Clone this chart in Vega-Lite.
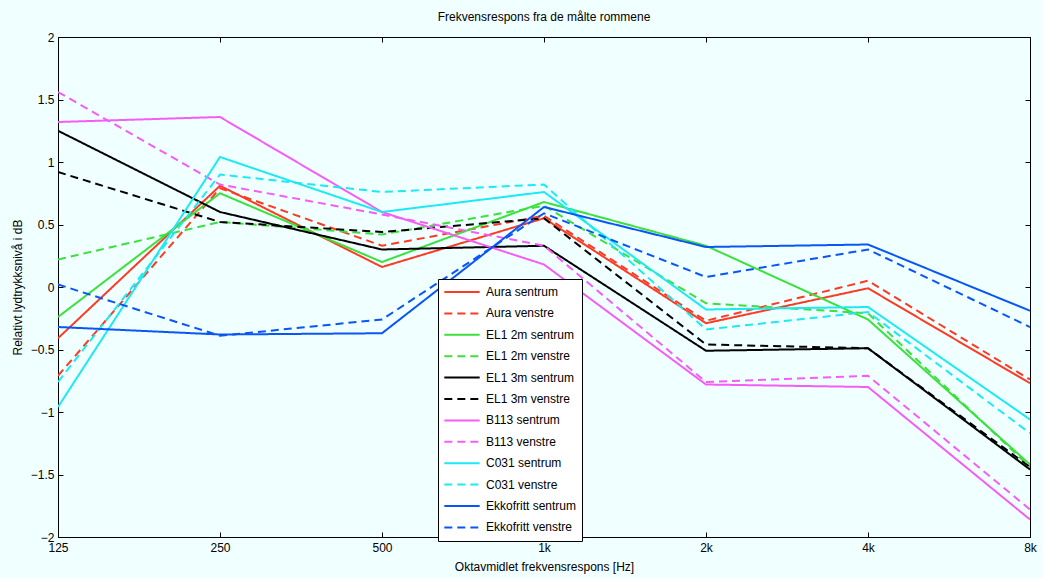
{
  "$schema": "https://vega.github.io/schema/vega-lite/v6.json",
  "width": 972,
  "height": 500,
  "autosize": {"type": "none"},
  "padding": {"left": 58, "top": 37, "right": 13, "bottom": 41},
  "background": "#F0FFFF",
  "config": {
    "font": "Liberation Sans",
    "view": {"stroke": "#000000", "strokeWidth": 1, "fill": "#F0FFFF"},
    "axis": {"labelFont": "Liberation Sans", "labelFontSize": 12, "labelColor": "#000", "titleFont": "Liberation Sans", "titleFontSize": 12, "titleFontWeight": "normal", "titleColor": "#000", "grid": false, "domain": false, "tickColor": "#000", "tickSize": -5, "labelOverlap": false, "labelFlush": false, "labelBound": false}
  },
  "title": {"text": "Frekvensrespons fra de målte rommene", "fontSize": 12, "fontWeight": "normal", "font": "Liberation Sans", "anchor": "middle", "offset": 7, "color": "#000"},
  "data": {"values": [
    {"f": 125, "s": "Aura sentrum", "v": -0.41}, {"f": 250, "s": "Aura sentrum", "v": 0.81}, {"f": 500, "s": "Aura sentrum", "v": 0.16}, {"f": 1000, "s": "Aura sentrum", "v": 0.55}, {"f": 2000, "s": "Aura sentrum", "v": -0.29}, {"f": 4000, "s": "Aura sentrum", "v": -0.01}, {"f": 8000, "s": "Aura sentrum", "v": -0.77},
    {"f": 125, "s": "Aura venstre", "v": -0.71}, {"f": 250, "s": "Aura venstre", "v": 0.79}, {"f": 500, "s": "Aura venstre", "v": 0.33}, {"f": 1000, "s": "Aura venstre", "v": 0.57}, {"f": 2000, "s": "Aura venstre", "v": -0.27}, {"f": 4000, "s": "Aura venstre", "v": 0.05}, {"f": 8000, "s": "Aura venstre", "v": -0.74},
    {"f": 125, "s": "EL1 2m sentrum", "v": -0.24}, {"f": 250, "s": "EL1 2m sentrum", "v": 0.75}, {"f": 500, "s": "EL1 2m sentrum", "v": 0.2}, {"f": 1000, "s": "EL1 2m sentrum", "v": 0.68}, {"f": 2000, "s": "EL1 2m sentrum", "v": 0.33}, {"f": 4000, "s": "EL1 2m sentrum", "v": -0.26}, {"f": 8000, "s": "EL1 2m sentrum", "v": -1.42},
    {"f": 125, "s": "EL1 2m venstre", "v": 0.22}, {"f": 250, "s": "EL1 2m venstre", "v": 0.52}, {"f": 500, "s": "EL1 2m venstre", "v": 0.42}, {"f": 1000, "s": "EL1 2m venstre", "v": 0.65}, {"f": 2000, "s": "EL1 2m venstre", "v": -0.13}, {"f": 4000, "s": "EL1 2m venstre", "v": -0.21}, {"f": 8000, "s": "EL1 2m venstre", "v": -1.44},
    {"f": 125, "s": "EL1 3m sentrum", "v": 1.25}, {"f": 250, "s": "EL1 3m sentrum", "v": 0.6}, {"f": 500, "s": "EL1 3m sentrum", "v": 0.3}, {"f": 1000, "s": "EL1 3m sentrum", "v": 0.33}, {"f": 2000, "s": "EL1 3m sentrum", "v": -0.51}, {"f": 4000, "s": "EL1 3m sentrum", "v": -0.49}, {"f": 8000, "s": "EL1 3m sentrum", "v": -1.46},
    {"f": 125, "s": "EL1 3m venstre", "v": 0.92}, {"f": 250, "s": "EL1 3m venstre", "v": 0.52}, {"f": 500, "s": "EL1 3m venstre", "v": 0.44}, {"f": 1000, "s": "EL1 3m venstre", "v": 0.55}, {"f": 2000, "s": "EL1 3m venstre", "v": -0.46}, {"f": 4000, "s": "EL1 3m venstre", "v": -0.49}, {"f": 8000, "s": "EL1 3m venstre", "v": -1.44},
    {"f": 125, "s": "B113 sentrum", "v": 1.32}, {"f": 250, "s": "B113 sentrum", "v": 1.36}, {"f": 500, "s": "B113 sentrum", "v": 0.6}, {"f": 1000, "s": "B113 sentrum", "v": 0.18}, {"f": 2000, "s": "B113 sentrum", "v": -0.78}, {"f": 4000, "s": "B113 sentrum", "v": -0.8}, {"f": 8000, "s": "B113 sentrum", "v": -1.86},
    {"f": 125, "s": "B113 venstre", "v": 1.56}, {"f": 250, "s": "B113 venstre", "v": 0.82}, {"f": 500, "s": "B113 venstre", "v": 0.58}, {"f": 1000, "s": "B113 venstre", "v": 0.33}, {"f": 2000, "s": "B113 venstre", "v": -0.76}, {"f": 4000, "s": "B113 venstre", "v": -0.71}, {"f": 8000, "s": "B113 venstre", "v": -1.78},
    {"f": 125, "s": "C031 sentrum", "v": -0.96}, {"f": 250, "s": "C031 sentrum", "v": 1.04}, {"f": 500, "s": "C031 sentrum", "v": 0.6}, {"f": 1000, "s": "C031 sentrum", "v": 0.76}, {"f": 2000, "s": "C031 sentrum", "v": -0.18}, {"f": 4000, "s": "C031 sentrum", "v": -0.16}, {"f": 8000, "s": "C031 sentrum", "v": -1.06},
    {"f": 125, "s": "C031 venstre", "v": -0.76}, {"f": 250, "s": "C031 venstre", "v": 0.9}, {"f": 500, "s": "C031 venstre", "v": 0.76}, {"f": 1000, "s": "C031 venstre", "v": 0.82}, {"f": 2000, "s": "C031 venstre", "v": -0.34}, {"f": 4000, "s": "C031 venstre", "v": -0.2}, {"f": 8000, "s": "C031 venstre", "v": -1.17},
    {"f": 125, "s": "Ekkofritt sentrum", "v": -0.32}, {"f": 250, "s": "Ekkofritt sentrum", "v": -0.38}, {"f": 500, "s": "Ekkofritt sentrum", "v": -0.37}, {"f": 1000, "s": "Ekkofritt sentrum", "v": 0.64}, {"f": 2000, "s": "Ekkofritt sentrum", "v": 0.32}, {"f": 4000, "s": "Ekkofritt sentrum", "v": 0.34}, {"f": 8000, "s": "Ekkofritt sentrum", "v": -0.19},
    {"f": 125, "s": "Ekkofritt venstre", "v": 0.02}, {"f": 250, "s": "Ekkofritt venstre", "v": -0.39}, {"f": 500, "s": "Ekkofritt venstre", "v": -0.26}, {"f": 1000, "s": "Ekkofritt venstre", "v": 0.59}, {"f": 2000, "s": "Ekkofritt venstre", "v": 0.08}, {"f": 4000, "s": "Ekkofritt venstre", "v": 0.3}, {"f": 8000, "s": "Ekkofritt venstre", "v": -0.32}
  ]},
  "layer": [
    {
      "mark": {"type": "line", "strokeWidth": 2, "clip": true},
      "encoding": {
        "x": {"field": "f", "type": "quantitative", "scale": {"type": "log", "base": 2, "domain": [125, 8000], "nice": false},
          "axis": {"orient": "bottom", "values": [125, 250, 500, 1000, 2000, 4000, 8000], "labelExpr": "datum.value >= 1000 ? (datum.value / 1000) + 'k' : datum.value", "labelPadding": 10, "title": "Oktavmidlet frekvensrespons [Hz]", "titleX": 486, "titleY": 29, "titleBaseline": "middle"}},
        "y": {"field": "v", "type": "quantitative", "scale": {"domain": [-2, 2], "nice": false, "zero": false},
          "axis": {"orient": "left", "values": [-2, -1.5, -1, -0.5, 0, 0.5, 1, 1.5, 2], "format": "~g", "labelPadding": 9, "title": "Relativt lydtrykksnivå i dB", "titleX": -41, "titleY": 250, "titleAngle": -90, "titleBaseline": "middle", "titleAlign": "center"}},
        "color": {"field": "s", "type": "nominal", "sort": null,
          "scale": {"domain": ["Aura sentrum", "Aura venstre", "EL1 2m sentrum", "EL1 2m venstre", "EL1 3m sentrum", "EL1 3m venstre", "B113 sentrum", "B113 venstre", "C031 sentrum", "C031 venstre", "Ekkofritt sentrum", "Ekkofritt venstre"],
            "range": ["#FF3A24", "#FF3A24", "#3CE03C", "#3CE03C", "#000000", "#000000", "#F65CF6", "#F65CF6", "#1DE9F2", "#1DE9F2", "#0A55F5", "#0A55F5"]},
          "legend": {"title": null, "orient": "none", "legendX": 380, "legendY": 242, "fillColor": "#FFFFFF", "strokeColor": "#000000", "padding": 5, "symbolType": "stroke", "symbolStrokeWidth": 2, "symbolSize": 1250, "labelFont": "Liberation Sans", "labelFontSize": 12, "labelColor": "#000", "clipHeight": 16, "rowPadding": 5.4, "labelOffset": 5}},
        "strokeDash": {"field": "s", "type": "nominal", "sort": null,
          "scale": {"domain": ["Aura sentrum", "Aura venstre", "EL1 2m sentrum", "EL1 2m venstre", "EL1 3m sentrum", "EL1 3m venstre", "B113 sentrum", "B113 venstre", "C031 sentrum", "C031 venstre", "Ekkofritt sentrum", "Ekkofritt venstre"],
            "range": [[1, 0], [8, 5], [1, 0], [8, 5], [1, 0], [8, 5], [1, 0], [8, 5], [1, 0], [8, 5], [1, 0], [8, 5]]},
          "legend": {"title": null, "orient": "none", "legendX": 380, "legendY": 242, "fillColor": "#FFFFFF", "strokeColor": "#000000", "padding": 5, "symbolType": "stroke", "symbolStrokeWidth": 2, "symbolSize": 1250, "labelFont": "Liberation Sans", "labelFontSize": 12, "labelColor": "#000", "clipHeight": 16, "rowPadding": 5.4, "labelOffset": 5}}
      }
    },
    {
      "mark": {"type": "line", "opacity": 0},
      "encoding": {
        "x": {"field": "f", "type": "quantitative", "scale": {"type": "log", "base": 2, "domain": [125, 8000], "nice": false},
          "axis": {"orient": "top", "values": [125, 250, 500, 1000, 2000, 4000, 8000], "labels": false, "title": null}},
        "y": {"field": "v", "type": "quantitative", "scale": {"domain": [-2, 2], "nice": false, "zero": false},
          "axis": {"orient": "right", "values": [-2, -1.5, -1, -0.5, 0, 0.5, 1, 1.5, 2], "labels": false, "title": null}},
        "detail": {"field": "s", "type": "nominal"}
      }
    }
  ],
  "resolve": {"axis": {"x": "independent", "y": "independent"}}
}
